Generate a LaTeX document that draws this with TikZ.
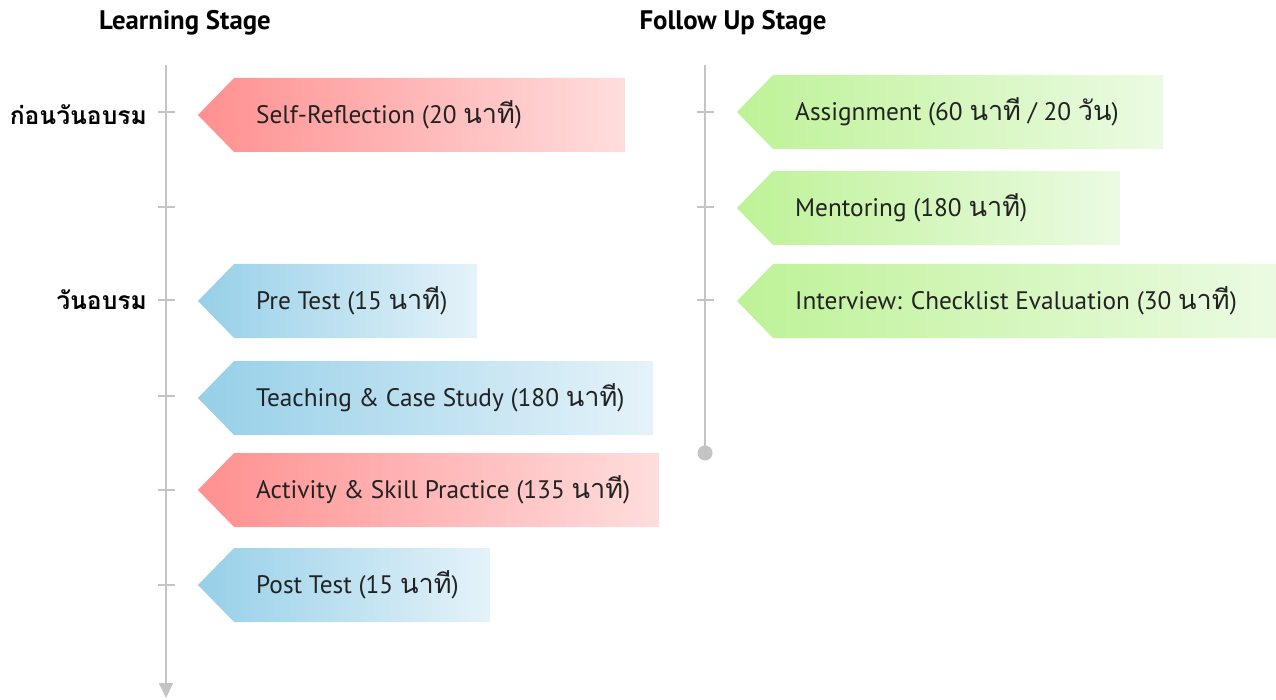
\documentclass[tikz,border=0pt]{standalone}
\usepackage{fontspec}
\setmainfont{PT Sans}
\newfontfamily\thaifont[Script=Thai,Scale=1.07]{Loma}
\newcommand\tht[1]{{\thaifont #1}}
\usetikzlibrary{arrows.meta}
\definecolor{axisgray}{HTML}{C4C4C4}
\definecolor{redL}{HTML}{FF8F8F}
\definecolor{redR}{HTML}{FFDEDE}
\definecolor{blueL}{HTML}{95CFE8}
\definecolor{blueR}{HTML}{E6F3F9}
\definecolor{greenL}{HTML}{BDF296}
\definecolor{greenR}{HTML}{ECFBE3}
\definecolor{txt}{HTML}{222222}
\tikzset{
  axisline/.style={draw=axisgray, line width=2pt},
  tickline/.style={draw=axisgray, line width=1.2pt},
  lbl/.style={font=\fontsize{25.3}{30}\selectfont, anchor=west, text=txt, inner sep=0pt},
  head/.style={font=\bfseries\fontsize{26.8}{31}\selectfont, text=black, inner sep=0pt},
  rowlbl/.style={font=\bfseries\fontsize{23}{27}\selectfont, text=black, inner sep=0pt, anchor=east},
}
% name, body-left, body-right, top, bottom, colour left, colour right, text
\newcommand\tagbox[8]{%
  \begin{scope}
    \clip (#2-36,{(#4+#5)/2}) -- (#2,#4) -- (#3,#4) -- (#3,#5) -- (#2,#5) -- cycle;
    \shade[left color=#6, right color=#7] (#2-40,#4-4) rectangle (#3+4,#5+4);
  \end{scope}
  \node[lbl] (#1) at (#2+22,{(#4+#5)/2}) {#8};
}
\begin{document}
\begin{tikzpicture}[x=1pt,y=-1pt]
\useasboundingbox (0,0) rectangle (1276,700);
% headers
\node[head] (hlearn) at (185,23) {Learning Stage};
\node[head] (hfollow) at (733,23) {Follow Up Stage};
% left axis
\coordinate (la0) at (166,65);
\coordinate (la1) at (166,698);
\draw[axisline, -{Triangle[width=14pt,length=15pt]}] (la0) -- (la1);
\foreach \y in {112,207,300,396,490,585} {
  \draw[tickline] (158,\y) -- (175,\y);
}
% right axis
\coordinate (ra0) at (705,65);
\coordinate (ra1) at (705,453);
\draw[axisline] (ra0) -- (ra1);
\fill[axisgray] (ra1) circle (7.5);
\foreach \y in {112,207,300} {
  \draw[tickline] (697,\y) -- (714,\y);
}
% row labels
\node[rowlbl] (before) at (147,115) {\tht{ก่อนวันอบรม}};
\node[rowlbl] (day) at (147,300) {\tht{วันอบรม}};
% left boxes
\tagbox{self}{234}{625}{78}{152}{redL}{redR}{Self-Reflection (20 \tht{นาที})}
\tagbox{pre}{234}{477}{264}{338}{blueL}{blueR}{Pre Test (15 \tht{นาที})}
\tagbox{teach}{234}{653}{361}{435}{blueL}{blueR}{Teaching \& Case Study (180 \tht{นาที})}
\tagbox{act}{234}{659}{453}{527}{redL}{redR}{Activity \& Skill Practice (135 \tht{นาที})}
\tagbox{post}{234}{490}{548}{622}{blueL}{blueR}{Post Test (15 \tht{นาที})}
% right boxes
\tagbox{assign}{773}{1163}{75}{149}{greenL}{greenR}{Assignment (60 \tht{นาที} / 20 \tht{วัน})}
\tagbox{mentor}{773}{1120}{171}{245}{greenL}{greenR}{Mentoring (180 \tht{นาที})}
\tagbox{inter}{773}{1276}{264}{338}{greenL}{greenR}{Interview: Checklist Evaluation (30 \tht{นาที})}
\end{tikzpicture}
\end{document}
